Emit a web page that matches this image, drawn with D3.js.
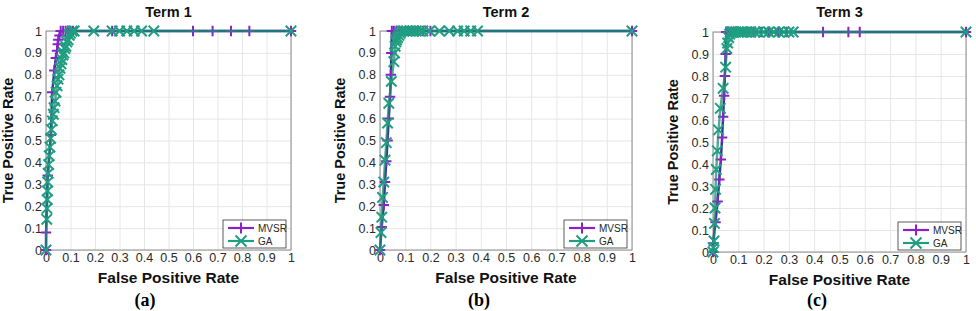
<!DOCTYPE html>
<html lang="en">
<head>
    <meta charset="UTF-8">
    <title>ROC curves - MVSR vs GA</title>
    <script src="https://d3js.org/d3.v7.min.js"></script>
    <style>
        body { margin: 0; background: #fff; font-family: "Liberation Sans", Arial, sans-serif; }
        svg { display: block; }
    </style>
</head>
<body>
    <div id="chart"></div>

    <script>
        // axis ticks
        const tickValues = [0, 0.1, 0.2, 0.3, 0.4, 0.5, 0.6, 0.7, 0.8, 0.9, 1];
        const tickLabels = ["0", "0.1", "0.2", "0.3", "0.4", "0.5", "0.6", "0.7", "0.8", "0.9", "1"];
        const seriesNames = ["MVSR", "GA"];
        const panelTitles = ["Term 1", "Term 2", "Term 3"];
        const panelTags = ["(a)", "(b)", "(c)"];

        // Term 1
        const term1MvsrFpr = [0, 0, 0.007, 0.02, 0.025, 0.034, 0.04, 0.045, 0.048, 0.05, 0.055, 0.06, 0.07, 0.08, 0.09, 0.1, 0.11, 0.27, 0.6, 0.68, 0.755, 0.83, 1];
        const term1MvsrTpr = [0, 0.08, 0.34, 0.525, 0.72, 0.82, 0.877, 0.91, 0.94, 0.96, 0.98, 1, 1, 1, 1, 1, 1, 1, 1, 1, 1, 1, 1];
        const term1GaFpr = [0, 0.003, 0.004, 0.005, 0.006, 0.007, 0.009, 0.011, 0.013, 0.016, 0.019, 0.022, 0.026, 0.03, 0.033, 0.037, 0.041, 0.045, 0.049, 0.053, 0.057, 0.061, 0.065, 0.069, 0.073, 0.077, 0.081, 0.085, 0.09, 0.095, 0.1, 0.107, 0.115, 0.195, 0.27, 0.3, 0.33, 0.36, 0.39, 0.44, 1];
        const term1GaTpr = [0, 0.14, 0.19, 0.23, 0.27, 0.31, 0.35, 0.39, 0.43, 0.47, 0.51, 0.55, 0.59, 0.62, 0.65, 0.68, 0.72, 0.75, 0.78, 0.8, 0.83, 0.85, 0.87, 0.89, 0.9, 0.92, 0.93, 0.95, 0.96, 0.98, 0.99, 1, 1, 1, 1, 1, 1, 1, 1, 1, 1];

        // Term 2
        const term2MvsrFpr = [0, 0.007, 0.015, 0.02, 0.025, 0.03, 0.035, 0.04, 0.043, 0.045, 0.047, 0.055, 0.065, 0.075, 0.085, 0.1, 0.115, 0.13, 0.15, 0.17, 0.2, 1];
        const term2MvsrTpr = [0, 0.105, 0.205, 0.31, 0.405, 0.5, 0.6, 0.7, 0.8, 0.9, 1, 1, 1, 1, 1, 1, 1, 1, 1, 1, 1, 1];
        const term2GaFpr = [0, 0.004, 0.007, 0.01, 0.015, 0.02, 0.025, 0.03, 0.035, 0.045, 0.055, 0.058, 0.06, 0.063, 0.066, 0.07, 0.075, 0.08, 0.085, 0.094, 0.106, 0.118, 0.13, 0.144, 0.157, 0.17, 0.197, 0.236, 0.275, 0.308, 0.334, 0.36, 0.387, 1];
        const term2GaTpr = [0, 0.08, 0.15, 0.24, 0.31, 0.41, 0.49, 0.58, 0.67, 0.77, 0.86, 0.9, 0.93, 0.95, 0.96, 0.97, 0.98, 0.99, 1, 1, 1, 1, 1, 1, 1, 1, 1, 1, 1, 1, 1, 1, 1, 1];

        // Term 3
        const term3MvsrFpr = [0, 0, 0.01, 0.018, 0.025, 0.031, 0.036, 0.04, 0.044, 0.047, 0.05, 0.052, 0.06, 0.07, 0.08, 0.09, 0.1, 0.12, 0.14, 0.16, 0.19, 0.22, 0.26, 0.29, 0.435, 0.535, 0.58, 1];
        const term3MvsrTpr = [0, 0.04, 0.135, 0.23, 0.33, 0.42, 0.52, 0.615, 0.71, 0.8, 0.9, 1, 1, 1, 1, 1, 1, 1, 1, 1, 1, 1, 1, 1, 1, 1, 1, 1];
        const term3GaFpr = [0, 0.002, 0.004, 0.006, 0.008, 0.01, 0.013, 0.017, 0.022, 0.029, 0.04, 0.05, 0.055, 0.058, 0.062, 0.066, 0.07, 0.075, 0.08, 0.09, 0.1, 0.11, 0.12, 0.135, 0.15, 0.165, 0.18, 0.2, 0.22, 0.24, 0.26, 0.28, 0.3, 0.317, 1];
        const term3GaTpr = [0, 0.02, 0.05, 0.13, 0.2, 0.285, 0.375, 0.46, 0.555, 0.653, 0.744, 0.84, 0.925, 0.95, 0.975, 0.99, 1, 1, 1, 1, 1, 1, 1, 1, 1, 1, 1, 1, 1, 1, 1, 1, 1, 1, 1];

        const panelData = [
            [[term1MvsrFpr, term1MvsrTpr], [term1GaFpr, term1GaTpr]],
            [[term2MvsrFpr, term2MvsrTpr], [term2GaFpr, term2GaTpr]],
            [[term3MvsrFpr, term3MvsrTpr], [term3GaFpr, term3GaTpr]]
        ];

        const width = 976, height = 311;
        const markerColor = ["#8a22c8", "#1f9e80"];
        const lineColor = ["#33368f", "#1d8a76"];

        // plot area of each panel (pixels)
        const boxes = [
            { left: 46, right: 291, top: 31, bottom: 250, ylabX: 8, tagX: 145 },
            { left: 380, right: 632, top: 31, bottom: 250, ylabX: 340, tagX: 479 },
            { left: 713, right: 966, top: 32, bottom: 252, ylabX: 673, tagX: 817 }
        ];

        const svg = d3.select("#chart")
            .append("svg")
            .attr("width", width)
            .attr("height", height);

        function markerPath(s, r) {
            return s === 0
                ? `M${-r},0H${r}M0,${-r}V${r}`
                : `M${-r},${-r}L${r},${r}M${-r},${r}L${r},${-r}`;
        }

        boxes.forEach((b, p) => {
            const x = d3.scaleLinear().domain([0, 1]).range([b.left, b.right]);
            const y = d3.scaleLinear().domain([0, 1]).range([b.bottom, b.top]);
            const g = svg.append("g");

            // grid
            g.append("g")
                .attr("transform", `translate(0,${b.bottom})`)
                .call(d3.axisBottom(x).tickValues(tickValues).tickSize(-(b.bottom - b.top)).tickFormat(""))
                .call(s => s.select(".domain").remove())
                .call(s => s.selectAll("line").attr("stroke", "#e6e6e6"));
            g.append("g")
                .attr("transform", `translate(${b.left},0)`)
                .call(d3.axisLeft(y).tickValues(tickValues).tickSize(-(b.right - b.left)).tickFormat(""))
                .call(s => s.select(".domain").remove())
                .call(s => s.selectAll("line").attr("stroke", "#e6e6e6"));

            // box
            g.append("rect")
                .attr("x", b.left).attr("y", b.top)
                .attr("width", b.right - b.left).attr("height", b.bottom - b.top)
                .attr("fill", "none").attr("stroke", "#8c8c8c").attr("stroke-width", 1);

            // tick labels
            g.append("g")
                .attr("transform", `translate(0,${b.bottom})`)
                .call(d3.axisBottom(x).tickValues(tickValues).tickSize(0).tickPadding(3)
                    .tickFormat((d, i) => tickLabels[i]))
                .call(s => s.select(".domain").remove())
                .call(s => s.selectAll("text").attr("font-size", 12.5)
                    .attr("font-family", "Liberation Sans, Arial, sans-serif").attr("fill", "#2a2a2a"));
            g.append("g")
                .attr("transform", `translate(${b.left},0)`)
                .call(d3.axisLeft(y).tickValues(tickValues).tickSize(0).tickPadding(4)
                    .tickFormat((d, i) => tickLabels[i]))
                .call(s => s.select(".domain").remove())
                .call(s => s.selectAll("text").attr("font-size", 12.5)
                    .attr("font-family", "Liberation Sans, Arial, sans-serif").attr("fill", "#2a2a2a"));

            // curves
            const line = d3.line().x(d => x(d[0])).y(d => y(d[1]));
            panelData[p].forEach((ser, s) => {
                const pts = ser[0].map((f, i) => [f, ser[1][i]]);
                g.append("path")
                    .datum(pts)
                    .attr("fill", "none")
                    .attr("stroke", lineColor[s])
                    .attr("stroke-opacity", s === 1 ? 0.75 : 1)
                    .attr("stroke-width", 2.4)
                    .attr("d", line);
                g.append("g").selectAll("path")
                    .data(pts)
                    .join("path")
                    .attr("transform", d => `translate(${x(d[0])},${y(d[1])})`)
                    .attr("d", markerPath(s, 5.2))
                    .attr("stroke", markerColor[s])
                    .attr("stroke-width", 2)
                    .attr("fill", "none");
            });

            // legend
            const lw = 63, lh = 28;
            const lx = b.right - 5 - lw, ly = b.bottom - 2 - lh;
            const lg = g.append("g").attr("transform", `translate(${lx},${ly})`);
            lg.append("rect").attr("width", lw).attr("height", lh)
                .attr("fill", "#fff").attr("stroke", "#333").attr("stroke-width", 0.8);
            seriesNames.forEach((name, s) => {
                const yy = 8 + s * 13;
                lg.append("line").attr("x1", 5).attr("x2", 31).attr("y1", yy).attr("y2", yy)
                    .attr("stroke", markerColor[s]).attr("stroke-width", 2.2);
                lg.append("path")
                    .attr("transform", `translate(18,${yy})`)
                    .attr("d", markerPath(s, 5.5))
                    .attr("stroke", markerColor[s]).attr("stroke-width", 2);
                lg.append("text").attr("x", 35).attr("y", yy + 3.8)
                    .attr("font-size", 10).attr("fill", "#262626").text(name);
            });

            // titles and labels
            const cx = (b.left + b.right) / 2;
            svg.append("text").attr("x", cx).attr("y", 17)
                .attr("text-anchor", "middle").attr("font-weight", "bold").attr("font-size", 14.5)
                .attr("fill", "#111").text(panelTitles[p]);
            svg.append("text").attr("x", cx).attr("y", b.bottom + 33)
                .attr("text-anchor", "middle").attr("font-weight", "bold").attr("font-size", 15.5)
                .attr("fill", "#111").text("False Positive Rate");
            svg.append("text")
                .attr("transform", `translate(${b.ylabX + 5},${(b.top + b.bottom) / 2}) rotate(-90)`)
                .attr("text-anchor", "middle").attr("font-weight", "bold").attr("font-size", 14.5)
                .attr("fill", "#111").text("True Positive Rate");
            svg.append("text").attr("x", b.tagX).attr("y", 306)
                .attr("text-anchor", "middle").attr("font-weight", "bold").attr("font-size", 18)
                .attr("font-family", "Liberation Serif, Times New Roman, serif")
                .attr("fill", "#000").text(panelTags[p]);
        });
    </script>
</body>
</html>
